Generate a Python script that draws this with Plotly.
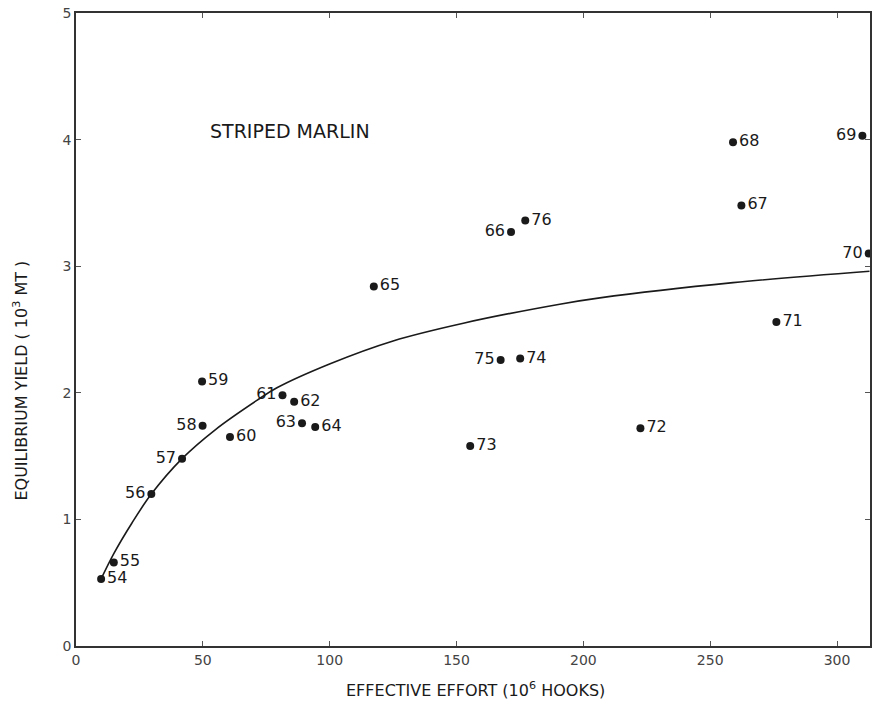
import plotly.graph_objects as go

# Observed annual points (year label, effective effort 10^6 hooks, yield 10^3 MT)
years = ["54", "55", "56", "57", "58", "59", "60", "61", "62", "63", "64", "65",
         "66", "67", "68", "69", "70", "71", "72", "73", "74", "75", "76"]
effort = [9.9, 14.9, 29.7, 41.8, 49.9, 49.7, 60.7, 81.4, 86.0, 89.1, 94.3, 117.4,
          171.5, 262.3, 259.0, 310.0, 312.5, 276.1, 222.5, 155.4, 175.1, 167.4, 177.1]
yield_obs = [0.53, 0.66, 1.20, 1.48, 1.74, 2.09, 1.65, 1.98, 1.93, 1.76, 1.73, 2.84,
             3.27, 3.48, 3.98, 4.03, 3.10, 2.56, 1.72, 1.58, 2.27, 2.26, 3.36]
label_side = ["right", "right", "left", "left", "left", "right", "right", "left", "right",
              "left", "right", "right", "left", "right", "right", "left", "left", "right",
              "right", "right", "right", "left", "right"]

# Equilibrium yield curve
curve_effort = [9.9, 14.9, 22.0, 29.7, 41.8, 55.0, 71.3, 79.2, 100.2, 125.0, 152.7,
                190.7, 206.5, 259.0, 312.8]
curve_yield = [0.53, 0.73, 0.97, 1.20, 1.48, 1.71, 1.94, 2.04, 2.23, 2.41, 2.55,
               2.70, 2.75, 2.87, 2.96]

x_ticks = [0, 50, 100, 150, 200, 250, 300]
y_ticks = [0, 1, 2, 3, 4, 5]

FONT = "DejaVu Sans"
INK = "#1a1a1a"

fig = go.Figure()
fig.add_trace(go.Scatter(
    x=curve_effort, y=curve_yield, mode="lines",
    line=dict(color=INK, width=1.6, shape="spline", smoothing=1.0),
    hoverinfo="skip", showlegend=False,
))
fig.add_trace(go.Scatter(
    x=effort, y=yield_obs, mode="markers+text",
    marker=dict(color=INK, size=8),
    text=years,
    textposition=["middle " + s for s in label_side],
    textfont=dict(family=FONT, size=16, color=INK),
    cliponaxis=False, showlegend=False,
))

fig.add_annotation(
    x=84.4, y=4.07, xref="x", yref="y", text="STRIPED MARLIN",
    showarrow=False, font=dict(family=FONT, size=19, color=INK),
)

# Axis titles
fig.add_annotation(
    x=0.503, y=-0.0695, xref="paper", yref="paper",
    text="EFFECTIVE EFFORT (10<sup>6</sup> HOOKS)",
    showarrow=False, xanchor="center", yanchor="middle",
    font=dict(family=FONT, size=16, color=INK),
)
fig.add_annotation(
    x=-0.07, y=0.42, xref="paper", yref="paper",
    text="EQUILIBRIUM YIELD ( 10<sup>3</sup> MT )", textangle=-90,
    showarrow=False, xanchor="center", yanchor="middle",
    font=dict(family=FONT, size=16, color=INK),
)

axis_common = dict(
    showline=True, linecolor="#333333", linewidth=1.5, mirror="ticks",
    ticks="inside", ticklen=5, tickcolor="#555555", tickwidth=1,
    showgrid=False, zeroline=False, automargin=False,
    tickfont=dict(family=FONT, size=14, color="#444444"),
)

fig.update_xaxes(
    range=[0, 313], tickvals=x_ticks, ticktext=[str(v) for v in x_ticks],
    **axis_common,
)
fig.update_yaxes(
    range=[0, 5], tickvals=y_ticks, ticktext=[str(v) for v in y_ticks],
    **axis_common,
)

fig.update_layout(
    width=872, height=708,
    margin=dict(l=76, r=2, t=13, b=62),
    paper_bgcolor="white", plot_bgcolor="white",
    font=dict(family=FONT, color=INK),
)

fig.write_html(
    "out.html",
    config={"displayModeBar": False},
    post_script="document.body.style.margin='0';document.body.style.overflow='hidden';",
)
